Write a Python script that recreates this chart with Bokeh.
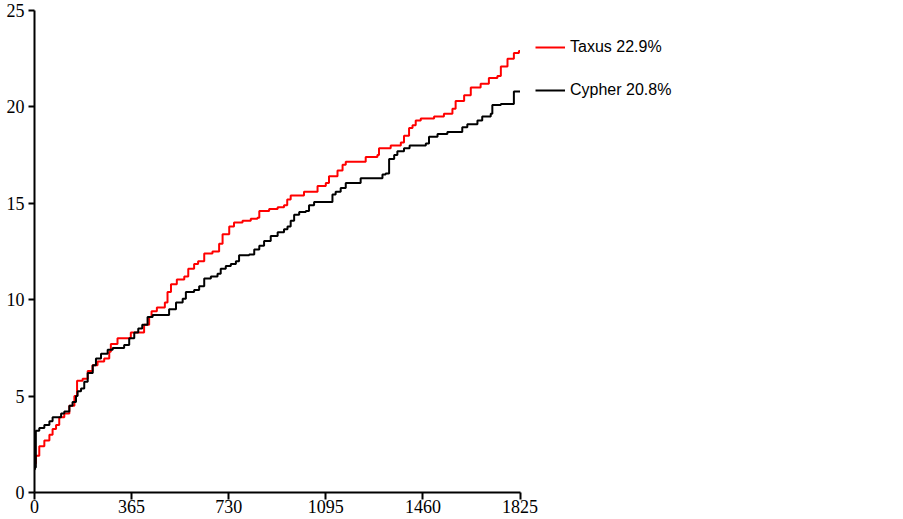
from bokeh.plotting import figure
from bokeh.models import Range1d, FixedTicker, Legend, LegendItem
from bokeh.embed import file_html
from bokeh.resources import INLINE

# Kaplan-Meier style cumulative event curves (days, %)
taxus_days = [0, 5, 18, 37, 56, 68, 81, 93, 112, 131, 150, 160, 181, 200, 218, 237, 262, 281, 287,
              312, 362, 412, 431, 440, 460, 490, 500, 513, 535, 563, 578, 600, 615, 638, 669, 694,
              707, 732, 750, 782, 813, 838, 845, 882, 914, 938, 950, 963, 1013, 1064, 1095, 1107,
              1139, 1158, 1170, 1245, 1289, 1295, 1339, 1377, 1389, 1408, 1421, 1433, 1452, 1502,
              1539, 1571, 1583, 1615, 1640, 1677, 1708, 1740, 1753, 1778, 1802, 1821, 1825]
taxus_vals = [1.5, 1.9, 2.4, 2.7, 3.0, 3.3, 3.5, 3.9, 4.1, 4.5, 5.0, 5.8, 5.9, 6.3, 6.6, 6.8, 6.95, 7.3, 7.7,
              8.0, 8.3, 8.7, 9.1, 9.4, 9.6, 9.85, 10.4, 10.8, 11.05, 11.2, 11.6, 11.85, 12.0, 12.4, 12.5, 12.9,
              13.4, 13.8, 14.0, 14.1, 14.2, 14.25, 14.6, 14.7, 14.8, 14.9, 15.2, 15.4, 15.6, 15.9, 16.05, 16.4,
              16.7, 17.0, 17.15, 17.4, 17.5, 17.85, 18.0, 18.15, 18.5, 18.9, 19.05, 19.3, 19.4, 19.5,
              19.65, 19.9, 20.3, 20.6, 21.0, 21.2, 21.5, 21.6, 22.1, 22.5, 22.8, 22.9, 22.9]

cypher_days = [0, 2, 5, 18, 37, 56, 68, 100, 112, 131, 143, 156, 162, 175, 187, 200, 219, 231, 250, 275,
               294, 337, 356, 375, 390, 405, 425, 444, 506, 532, 557, 569, 600, 619, 638, 663, 688, 700,
               719, 738, 757, 769, 807, 826, 845, 863, 888, 914, 938, 951, 963, 976, 995, 1020, 1032,
               1051, 1120, 1132, 1151, 1170, 1226, 1308, 1320, 1333, 1352, 1364, 1389, 1410, 1471,
               1483, 1515, 1552, 1608, 1627, 1665, 1683, 1715, 1721, 1753, 1802, 1825]
cypher_vals = [1.2, 1.3, 3.2, 3.35, 3.5, 3.7, 3.9, 4.1, 4.2, 4.5, 4.7, 5.0, 5.25, 5.4, 5.75, 6.2, 6.6, 6.95, 7.2, 7.4,
               7.5, 7.65, 8.0, 8.3, 8.5, 8.7, 9.1, 9.2, 9.5, 9.85, 10.05, 10.4, 10.5, 10.7, 11.1, 11.2, 11.35, 11.6,
               11.75, 11.85, 12.0, 12.3, 12.35, 12.6, 12.8, 13.05, 13.3, 13.5, 13.65, 13.8, 14.1, 14.4, 14.55, 14.6, 14.9,
               15.07, 15.45, 15.6, 15.8, 16.05, 16.3, 16.5, 16.55, 17.3, 17.5, 17.7, 17.85, 18.0, 18.1,
               18.45, 18.6, 18.7, 18.95, 19.1, 19.3, 19.5, 19.65, 20.1, 20.15, 20.8, 20.8]

x_ticks = [0, 365, 730, 1095, 1460, 1825]
y_ticks = [0, 5, 10, 15, 20, 25]
series_labels = ["Taxus 22.9%", "Cypher 20.8%"]

W = 900
LEFT = 34
AXIS_W = 485.5          # pixel length of the 0..1825 axis
x_end = x_ticks[-1] * (W - LEFT) / AXIS_W   # frame spans the whole width; axis is bounded

p = figure(width=W, height=519, output_backend="svg", toolbar_location=None,
           x_range=Range1d(0, x_end), y_range=Range1d(0, 25),
           min_border_left=LEFT, min_border_right=0, min_border_top=10, min_border_bottom=27)
p.outline_line_color = None
p.grid.visible = False
p.background_fill_color = "white"
p.border_fill_color = "white"

r_taxus = p.step(taxus_days, taxus_vals, mode="after", line_color="#ff0000", line_width=2)
r_cypher = p.step(cypher_days, cypher_vals, mode="after", line_color="black", line_width=2)

for ax, ticks in ((p.xaxis[0], x_ticks), (p.yaxis[0], y_ticks)):
    ax.ticker = FixedTicker(ticks=ticks)
    ax.bounds = (ticks[0], ticks[-1])
    ax.minor_tick_line_color = None
    ax.axis_line_width = 2
    ax.axis_line_color = "black"
    ax.major_tick_line_width = 2
    ax.major_tick_line_color = "black"
    ax.major_tick_in = 0
    ax.major_label_text_font = "Liberation Serif"
    ax.major_label_text_font_size = "18px"
    ax.major_label_text_color = "black"
p.xaxis[0].major_tick_out = 7
p.yaxis[0].major_tick_out = 6
p.xaxis[0].major_label_standoff = 0
p.yaxis[0].major_label_standoff = 4

legend = Legend(items=[LegendItem(label=series_labels[0], renderers=[r_taxus]),
                       LegendItem(label=series_labels[1], renderers=[r_cypher])],
                location=(501, 392), margin=0, padding=0, spacing=23,
                glyph_width=30, glyph_height=20, label_height=20, label_standoff=5,
                label_text_font="Liberation Sans", label_text_font_size="16px",
                label_text_color="black", border_line_color=None,
                background_fill_alpha=0)
p.add_layout(legend)

open("out.html", "w").write(file_html(p, INLINE))
